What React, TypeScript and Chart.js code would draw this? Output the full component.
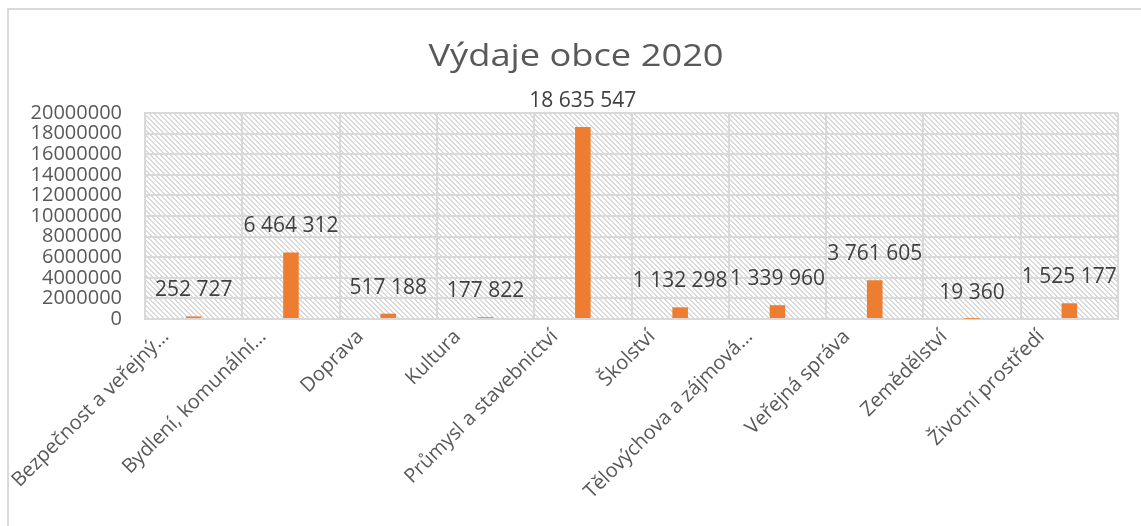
import React, { useEffect, useRef } from "react";
import { Chart, registerables } from "chart.js";

Chart.register(...registerables);

const TITLE = "Výdaje obce 2020";
const categories = [
  "Bezpečnost a veřejný…",
  "Bydlení, komunální…",
  "Doprava",
  "Kultura",
  "Průmysl a stavebnictví",
  "Školství",
  "Tělovýchova a zájmová…",
  "Veřejná správa",
  "Zemědělství",
  "Životní prostředí",
];
const values = [252727, 6464312, 517188, 177822, 18635547, 1132298, 1339960, 3761605, 19360, 1525177];
const yMin = 0;
const yMax = 20000000;
const yStep = 2000000;

const FONT = "'Open Sans', sans-serif";

function fmt(v: number): string {
  return String(v).replace(/\B(?=(\d{3})+(?!\d))/g, " ");
}

function makePattern(ctx: CanvasRenderingContext2D): CanvasPattern | string {
  const s = 5;
  const c = document.createElement("canvas");
  c.width = s;
  c.height = s;
  const g = c.getContext("2d");
  if (!g) return "#fff";
  g.fillStyle = "#ffffff";
  g.fillRect(0, 0, s, s);
  g.fillStyle = "#d9d9d9";
  for (let i = 0; i < s; i++) {
    g.fillRect(i, i, 1, 1);
    g.fillRect((i + 1) % s, i, 1, 1);
  }
  return ctx.createPattern(c, "repeat") || "#fff";
}

const bgPlugin = {
  id: "hatchBg",
  beforeDraw(chart: any) {
    const { ctx, chartArea } = chart;
    if (!chartArea) return;
    ctx.save();
    ctx.fillStyle = makePattern(ctx);
    ctx.fillRect(chartArea.left, chartArea.top, chartArea.right - chartArea.left, chartArea.bottom - chartArea.top);
    ctx.restore();
  },
};

const titlePlugin = {
  id: "customTitle",
  afterDraw(chart: any) {
    const { ctx } = chart;
    ctx.save();
    ctx.fillStyle = "#595959";
    ctx.font = `31px ${FONT}`;
    ctx.textAlign = "center";
    ctx.textBaseline = "alphabetic";
    ctx.translate(576, 66);
    ctx.scale(1.17, 1);
    ctx.fillText(TITLE, 0, 0);
    ctx.restore();
  },
};

const labelPlugin = {
  id: "valueLabels",
  afterDatasetsDraw(chart: any) {
    const { ctx } = chart;
    const meta = chart.getDatasetMeta(0);
    ctx.save();
    ctx.fillStyle = "#404040";
    ctx.font = `21px ${FONT}`;
    ctx.textAlign = "center";
    ctx.textBaseline = "middle";
    meta.data.forEach((el: any, i: number) => {
      ctx.fillText(fmt(values[i]), el.x, el.y - 26);
    });
    ctx.restore();
  },
};

export default function App() {
  const ref = useRef<HTMLCanvasElement>(null);
  useEffect(() => {
    if (!ref.current) return;
    const chart = new Chart(ref.current, {
      type: "bar",
      data: {
        labels: categories,
        datasets: [
          {
            data: values,
            backgroundColor: "#ED7D31",
            barPercentage: 0.16,
            categoryPercentage: 1,
          },
        ],
      },
      options: {
        responsive: false,
        animation: false,
        layout: { padding: { top: 113, right: 23, left: 0, bottom: 0 } },
        plugins: {
          legend: { display: false },
          title: { display: false },
          tooltip: { enabled: false },
        },
        scales: {
          x: {
            grid: { color: "#d9d9d9", lineWidth: 2, offset: true, drawTicks: false },
            border: { color: "#d9d9d9", width: 2 },
            ticks: {
              color: "#595959",
              font: { family: FONT, size: 20 },
              minRotation: 45,
              maxRotation: 45,
              autoSkip: false,
              padding: 6,
              labelOffset: -28,
            },
            afterFit(scale: any) {
              scale.height = 207;
            },
          },
          y: {
            min: yMin,
            max: yMax,
            grid: { color: "#d9d9d9", lineWidth: 2, drawTicks: false },
            border: { color: "#d9d9d9", width: 2 },
            ticks: {
              stepSize: yStep,
              autoSkip: false,
              color: "#595959",
              font: { family: FONT, size: 20, lineHeight: 1 },
              padding: 23,
              callback: (v: any) => String(v),
            },
            afterFit(scale: any) {
              scale.width = 145;
            },
          },
        },
      },
      plugins: [bgPlugin, labelPlugin, titlePlugin],
    });
    return () => chart.destroy();
  }, []);

  return (
    <div style={{ position: "fixed", left: 0, top: 0, width: 1141, height: 526, background: "#fff", overflow: "hidden" }}>
      <div
        style={{
          position: "absolute",
          left: 7,
          top: 8,
          right: 0,
          bottom: 0,
          borderTop: "2px solid #d9d9d9",
          borderLeft: "2px solid #d9d9d9",
        }}
      />
      <canvas ref={ref} width={1141} height={526} style={{ position: "absolute", left: 0, top: 0 }} />
    </div>
  );
}
